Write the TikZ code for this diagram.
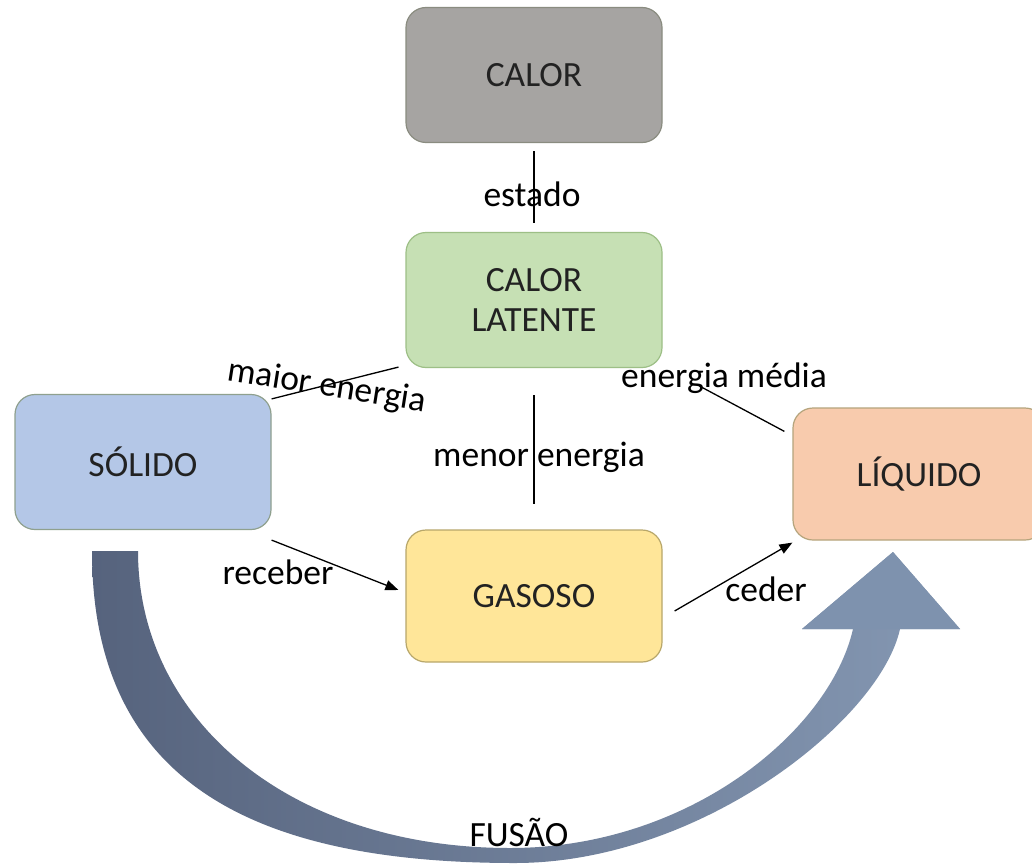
\documentclass[tikz,border=0pt]{standalone}
\usepackage{fontspec}
\setmainfont{Carlito}
\usetikzlibrary{arrows.meta,calc}
\definecolor{txt}{HTML}{222222}
\definecolor{calorfill}{HTML}{A6A4A2}
\definecolor{calorline}{HTML}{8A8C80}
\definecolor{latfill}{HTML}{C6E0B4}
\definecolor{latline}{HTML}{9DBF86}
\definecolor{solfill}{HTML}{B4C7E7}
\definecolor{solline}{HTML}{8FA08E}
\definecolor{liqfill}{HTML}{F8CBAD}
\definecolor{liqline}{HTML}{B5A47C}
\definecolor{gasfill}{HTML}{FFE699}
\definecolor{gasline}{HTML}{B8A76A}
\definecolor{arrL}{HTML}{56637D}
\definecolor{arrR}{HTML}{8598B3}
\definecolor{arrH}{HTML}{7E92AE}
\begin{document}
\begin{tikzpicture}[x=1pt,y=-1pt,
  stbox/.style={rounded corners=20pt, line width=1.2pt, text=txt,
    font=\fontsize{35.5}{40}\selectfont, align=center, inner sep=0pt,
    minimum width=256pt, minimum height=134pt},
  lbl/.style={text=black, font=\fontsize{35.5}{40}\selectfont, inner sep=0pt},
  conn/.style={line width=1.3pt, black},
  tip/.style={-{Triangle[length=13pt,width=10pt]}}
]
\useasboundingbox (0,0) rectangle (1032,864);
\clip (0,0) rectangle (1032,864);
\fill[white] (0,0) rectangle (1032,864);

% big curved arrow (FUSAO)
\shade[left color=arrL, right color=arrR]
  (92,551) .. controls (92,780) and (250,863) .. (515,863)
  .. controls (700,863) and (880,720) .. (900,629)
  -- (960,629) -- (893,552) -- (802,629) -- (853,629)
  .. controls (830,730) and (690,848) .. (510,848)
  .. controls (290,848) and (138,720) .. (138,551) -- cycle;
\fill[arrH] (900,629) -- (960,629) -- (893,552) -- (802,629) -- (853,629) -- cycle;

% boxes
\node[stbox, draw=calorline, fill=calorfill, minimum height=135pt] (calor) at (534,75) {CALOR};
\node[stbox, draw=latline, fill=latfill, minimum height=135pt] (latente) at (534,300) {CALOR\\LATENTE};
\node[stbox, draw=solline, fill=solfill, minimum height=135pt] (solido) at (143,462) {SÓLIDO};
\node[stbox, draw=gasline, fill=gasfill, minimum height=132pt] (gasoso) at (534,596) {GASOSO};
\node[stbox, draw=liqline, fill=liqfill, minimum width=252pt, minimum height=132pt] (liquido) at (919,474) {LÍQUIDO};

% connectors
\draw[conn, shorten <=8pt, shorten >=9pt] (calor) -- (latente);
\draw[conn, shorten <=27pt, shorten >=25pt] (latente) -- (gasoso);
\draw[conn] ($(solido.north east)+(0,5)$) -- ($(latente.south west)+(-7,-1)$);
\draw[conn] ($(liquido.north west)+(-8,24)$) -- ($(latente.south east)+(37,18)$);
\draw[conn, tip] ($(solido.south east)+(0,10)$) -- ($(gasoso.west)+(-7,-6)$);
\draw[conn, tip] ($(gasoso.east)+(12,15)$) -- ($(liquido.south west)+(0,2)$);

% labels
\node[lbl] (lestado) at (532,194) {estado};
\node[lbl, rotate=-9] (lmaior) at (327,387) {maior energia};
\node[lbl] (lmenor) at (539,457) {menor energia};
\node[lbl] (lmedia) at (724,378) {energia média};
\node[lbl] (lreceber) at (278,572) {receber};
\node[lbl] (lceder) at (766,589) {ceder};
\node[lbl] (lfusao) at (519,832) {FUSÃO};
\end{tikzpicture}
\end{document}
